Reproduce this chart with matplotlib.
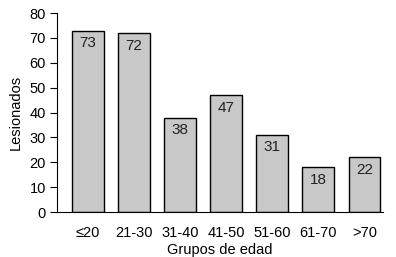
import matplotlib.pyplot as plt

grupos = ["≤20", "21-30", "31-40", "41-50", "51-60", "61-70", ">70"]
lesionados = [73, 72, 38, 47, 31, 18, 22]

plt.rcParams['font.family'] = ['Liberation Sans', 'DejaVu Sans']

fig = plt.figure(figsize=(3.96, 2.57), dpi=100)
ax = fig.add_axes([0.144, 0.175, 0.823, 0.774])

x = list(range(len(grupos)))
bars = ax.bar(x, lesionados, width=0.69, color="#c8c8c8", edgecolor="black", linewidth=1)

for xi, v in zip(x, lesionados):
    ax.annotate(str(v), (xi, v), xytext=(0, -4), textcoords="offset points",
                ha="center", va="top", fontsize=11, color="#222222")

ax.set_xlim(-0.67, 6.4)
ax.set_ylim(0, 80)
ax.set_yticks(range(0, 81, 10))
ax.set_xticks(x)
ax.set_xticklabels(grupos)
ax.tick_params(axis="x", length=0, labelsize=10.5, pad=10)
ax.tick_params(axis="y", length=5, labelsize=10.5, direction="out", pad=3)
ax.spines["top"].set_visible(False)
ax.spines["right"].set_visible(False)
ax.set_xlabel("Grupos de edad", fontsize=10.5, labelpad=2)
ax.set_ylabel("Lesionados", fontsize=10.5, labelpad=5)

fig.savefig("out.png", dpi=100)
